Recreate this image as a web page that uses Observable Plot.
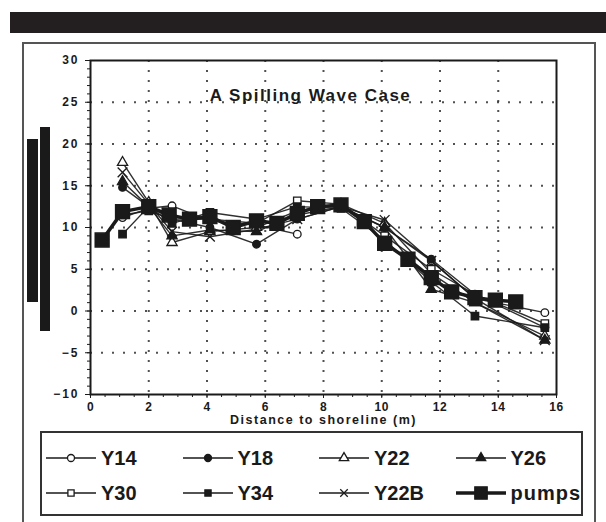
<!DOCTYPE html>
<html><head><meta charset="utf-8">
<script src="https://cdn.jsdelivr.net/npm/d3@7"></script>
<script src="https://cdn.jsdelivr.net/npm/@observablehq/plot@0.6"></script>
<style>
body{margin:0;background:#fff;font-family:"Liberation Sans",Arial,sans-serif;}
#page{position:relative;width:606px;height:522px;overflow:hidden;background:#fff;}
#topbar{position:absolute;left:10px;top:12px;width:596px;height:21px;background:#231f20;}
#outer{position:absolute;left:22px;top:42px;width:570px;height:500px;border:2px solid #555;}
.vbar{position:absolute;background:#1a1a1a;}
#chart{position:absolute;left:22px;top:42px;}
#legend{position:absolute;left:40px;top:431px;width:539px;height:81px;border:2px solid #333;background:#fff;}
.item{position:absolute;height:30px;display:flex;align-items:center;}
.item span{font-weight:bold;font-size:20px;color:#1a1a1a;margin-left:4px;}
</style></head><body>
<div id="page">
  <div id="topbar"></div>
  <div id="outer"></div>
  <div class="vbar" style="left:27px;top:139px;width:11px;height:163px"></div>
  <div class="vbar" style="left:40px;top:127px;width:10px;height:204px"></div>
  <div id="chart"></div>
  <div id="legend"></div>
</div>
<script>
const title = "A Spilling Wave Case";
const xLabel = "Distance to shoreline (m)";
const xTicks = [0, 2, 4, 6, 8, 10, 12, 14, 16];
const yTicks = [-10, -5, 0, 5, 10, 15, 20, 25, 30];

const stations = [1.1, 2.0, 2.8, 4.1, 5.7, 7.1, 8.6, 10.1, 11.7, 13.2, 15.6];
const Y14  = [11.2, 12.3, 12.6, 10.8, 10.3, 9.2, null, 10.0, 6.0, 1.5, -0.2];
const Y18  = [14.8, 12.5, 11.0, 10.0, 8.0, 11.0, 12.5, 10.0, 6.2, 2.0, -2.0];
const Y22  = [17.8, 13.0, 8.2, 9.5, 10.0, 12.0, 12.8, 10.5, 4.5, 1.0, -3.0];
const Y26  = [15.5, 12.5, 9.0, 9.7, 9.5, 11.5, 12.5, 10.0, 2.6, 1.0, -3.5];
const Y30  = [11.5, 12.0, 11.0, 11.0, 10.5, 13.2, 12.8, 9.0, 5.0, 2.0, -1.5];
const Y34  = [9.2, 12.5, 10.5, 11.8, 11.0, 12.5, 12.3, 8.5, 3.5, -0.6, -2.0];
const Y22B = [16.6, 12.8, 9.5, 8.9, 9.8, 11.0, 12.5, 10.9, 6.0, 1.5, -3.5];

const pumpX = [0.4, 1.1, 2.0, 2.7, 3.4, 4.1, 4.9, 5.7, 6.4, 7.1, 7.8, 8.6, 9.4, 10.1, 10.9, 11.7, 12.4, 13.2, 13.9, 14.6];
const pumpY = [8.5, 11.9, 12.5, 11.5, 11.0, 11.3, 10.0, 10.8, 10.5, 11.7, 12.5, 12.7, 10.7, 8.1, 6.2, 4.0, 2.3, 1.6, 1.3, 1.1];

const seriesNames = ["Y14", "Y18", "Y22", "Y26", "Y30", "Y34", "Y22B", "pumps"];
const seriesValues = {Y14, Y18, Y22, Y26, Y30, Y34, Y22B};
const symbols = {Y14:["circle",false], Y18:["circle",true], Y22:["triangle",false], Y26:["triangle",true],
                 Y30:["square",false], Y34:["square",true], Y22B:["times",false], pumps:["square",true]};

const rows = [];
for (const name of seriesNames.slice(0, 7)) {
  seriesValues[name].forEach((v, i) => rows.push({series: name, x: stations[i], y: v == null ? NaN : v}));
}
const pumps = pumpX.map((x, i) => ({series: "pumps", x, y: pumpY[i]}));

const ink = "#1a1a1a";
const marks = [
  Plot.gridX(xTicks.slice(1, -1), {stroke: "#333", strokeOpacity: 0.85, strokeWidth: 2, strokeDasharray: "2,8"}),
  Plot.gridY(yTicks.slice(1, -1), {stroke: "#333", strokeOpacity: 0.85, strokeWidth: 2, strokeDasharray: "2,9"}),
  Plot.axisY({ticks: d3.range(-10, 31, 1), tickSize: 3, tickFormat: () => "", stroke: ink, label: null}),
  Plot.axisY({ticks: yTicks, tickSize: 5, tickPadding: 6, fontSize: 12, fontWeight: "bold", fill: ink, stroke: ink, label: null}),
  Plot.axisX({ticks: d3.range(0, 16.01, 0.5), tickSize: 3, tickFormat: () => "", stroke: ink, label: null}),
  Plot.axisX({ticks: xTicks, tickSize: 4, tickPadding: 4, fontSize: 12, fontWeight: "bold", fill: ink, stroke: ink, label: null}),
  Plot.line(rows, {x: "x", y: "y", z: "series", stroke: ink, strokeWidth: 1.4, strokeOpacity: 0.9}),
  Plot.line(pumps, {x: "x", y: "y", stroke: ink, strokeWidth: 3.5}),
];
for (const name of seriesNames.slice(0, 7)) {
  const [sym, filled] = symbols[name];
  marks.push(Plot.dot(rows.filter(d => d.series === name && isFinite(d.y)), {
    x: "x", y: "y", symbol: () => sym, r: sym === "square" ? 4.2 : sym === "times" ? 4.5 : 3.8,
    fill: filled ? ink : (sym === "times" ? "none" : "white"), stroke: ink, strokeWidth: 1.3
  }));
}
marks.push(Plot.dot(pumps, {x: "x", y: "y", symbol: () => "square", r: 7.8, fill: ink, stroke: ink}));
marks.push(Plot.frame({stroke: ink, strokeWidth: 2}));
marks.push(Plot.text([title], {frameAnchor: "top", dx: -13, dy: 28, text: d => d, fontSize: 17, fontWeight: "bold", fill: ink}));
marks.push(Plot.text([xLabel], {frameAnchor: "bottom", dy: 29.5, text: d => d, fontSize: 12.5, fontWeight: "bold", fill: ink}));

const chart = Plot.plot({
  width: 574, height: 386,
  marginLeft: 68, marginRight: 40, marginTop: 18, marginBottom: 34,
  style: {fontFamily: "'Liberation Sans', Arial, sans-serif", background: "transparent", overflow: "visible"},
  x: {domain: [0, 16]},
  y: {domain: [-10, 30]},
  marks
});
document.getElementById("chart").appendChild(chart);
d3.select(chart).selectAll('g[aria-label="y-axis tick label"] text').attr("letter-spacing", "2px");
d3.select(chart).selectAll('g[aria-label="x-axis tick label"] text').attr("letter-spacing", "0.5px");
d3.select(chart).selectAll('g[aria-label="text"] text').attr("letter-spacing", "1.5px");

// legend
const legend = d3.select("#legend");
seriesNames.forEach((name, i) => {
  const col = i % 4, row = Math.floor(i / 4);
  const item = legend.append("div").attr("class", "item")
    .style("left", (3 + col * 136.5) + "px").style("top", (10 + row * 35) + "px");
  const s = item.append("svg").attr("width", 52).attr("height", 30);
  const [sym, filled] = symbols[name];
  const big = name === "pumps";
  s.append("line").attr("x1", 1).attr("x2", 51).attr("y1", 15).attr("y2", 15)
    .attr("stroke", ink).attr("stroke-width", big ? 3.5 : 1.4);
  const size = big ? Math.PI * 7 * 7 : Math.PI * 3.5 * 3.5;
  const symType = {circle: d3.symbolCircle, triangle: d3.symbolTriangle, square: d3.symbolSquare, times: d3.symbolTimes}[sym];
  s.append("path").attr("d", d3.symbol(symType, size)()).attr("transform", "translate(26,15)")
    .attr("fill", filled ? ink : (sym === "times" ? "none" : "white")).attr("stroke", ink).attr("stroke-width", 1.3);
  item.append("span").text(name).style("letter-spacing", big ? "1px" : "0px");
});
</script>
</body></html>
